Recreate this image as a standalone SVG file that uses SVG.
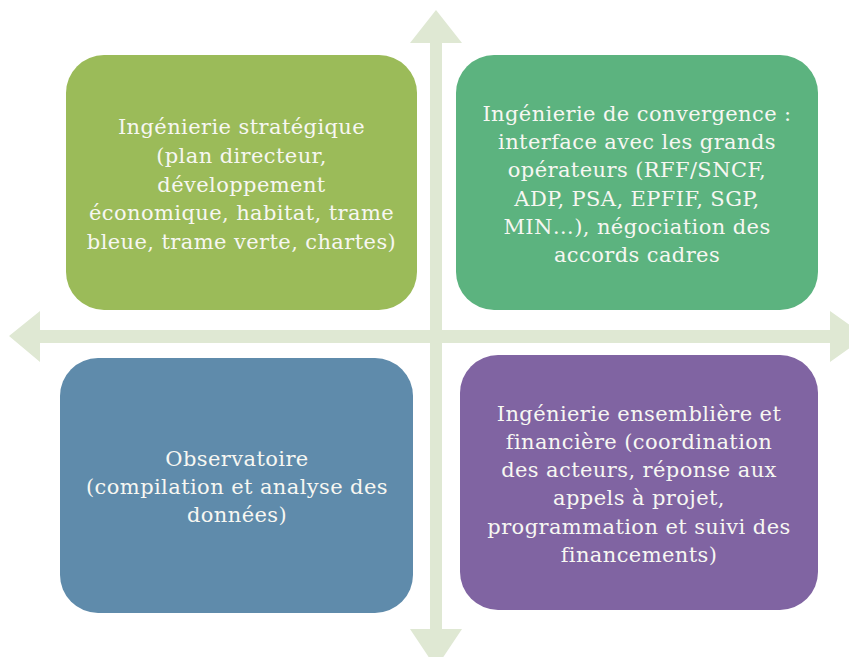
<svg xmlns="http://www.w3.org/2000/svg" width="849" height="657" viewBox="0 0 849 657">
  <style>
    .axis { fill: #DFE8D3; }
    .box text { font-family: "DejaVu Serif", "Liberation Serif", serif; font-size: 21px; letter-spacing: 0.4px; fill: #F7F7F2; text-anchor: middle; }
  </style>
  <rect width="849" height="657" fill="#FFFFFF"/>

  <!-- Cross-shaped double arrows behind the quadrants -->
  <g id="connectors">
    <polygon class="axis" points="436,10 462,43 442,43 442,629 462,629 436,668 410,629 430,629 430,43 410,43"/>
    <polygon class="axis" points="9,336 40,311 40,330 830,330 830,311 866,336.5 830,362 830,343 40,343 40,362"/>
  </g>

  <g id="strategique" class="box">
    <rect x="66" y="55" width="351" height="255" rx="38" fill="#9BBB59"/>
    <text x="241.5" y="134">Ingénierie stratégique</text>
    <text x="241.5" y="163">(plan directeur,</text>
    <text x="241.5" y="192">développement</text>
    <text x="241.5" y="220">économique, habitat, trame</text>
    <text x="241.5" y="249">bleue, trame verte, chartes)</text>
  </g>

  <g id="convergence" class="box">
    <rect x="456" y="55" width="362" height="255" rx="38" fill="#5CB37F"/>
    <text x="637" y="121">Ingénierie de convergence :</text>
    <text x="637" y="149">interface avec les grands</text>
    <text x="637" y="177">opérateurs (RFF/SNCF,</text>
    <text x="637" y="206">ADP, PSA, EPFIF, SGP,</text>
    <text x="637" y="234">MIN…), négociation des</text>
    <text x="637" y="262">accords cadres</text>
  </g>

  <g id="observatoire" class="box">
    <rect x="60" y="358" width="353" height="255" rx="38" fill="#5F8BAB"/>
    <text x="237" y="466">Observatoire</text>
    <text x="237" y="494">(compilation et analyse des</text>
    <text x="237" y="522">données)</text>
  </g>

  <g id="ensembliere" class="box">
    <rect x="460" y="355" width="358" height="255" rx="38" fill="#8064A2"/>
    <text x="639" y="421">Ingénierie ensemblière et</text>
    <text x="639" y="449">financière (coordination</text>
    <text x="639" y="477">des acteurs, réponse aux</text>
    <text x="639" y="505">appels à projet,</text>
    <text x="639" y="534">programmation et suivi des</text>
    <text x="639" y="562">financements)</text>
  </g>
</svg>
